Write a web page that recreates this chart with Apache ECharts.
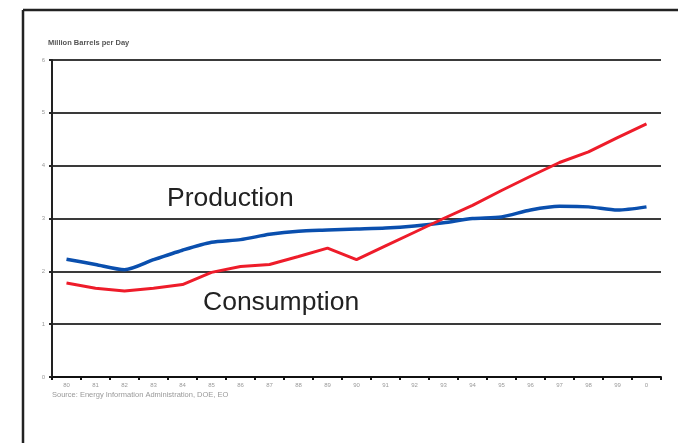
<!DOCTYPE html>
<html>
<head>
<meta charset="utf-8">
<title>Oil Production and Consumption</title>
<script src="https://cdn.jsdelivr.net/npm/echarts@6/dist/echarts.min.js"></script>
<style>
  html, body { margin: 0; padding: 0; background: #fff; }
  #chart { width: 678px; height: 443px; }
</style>
</head>
<body>
<div id="chart"></div>
<script>
// Years along the x axis (1980 through 2000)
const years = ['80','81','82','83','84','85','86','87','88','89','90',
               '91','92','93','94','95','96','97','98','99','0'];

// Million barrels per day
const production = [2.23, 2.13, 2.03, 2.22, 2.40, 2.55, 2.60, 2.70, 2.76, 2.78, 2.80,
                    2.82, 2.86, 2.92, 3.00, 3.03, 3.16, 3.23, 3.22, 3.16, 3.22];
const consumption = [1.78, 1.68, 1.63, 1.68, 1.75, 1.98, 2.09, 2.13, 2.28, 2.44, 2.22,
                     2.48, 2.74, 3.00, 3.25, 3.53, 3.80, 4.06, 4.26, 4.53, 4.79];

const yTicks = [0, 1, 2, 3, 4, 5, 6];

const chart = echarts.init(document.getElementById('chart'), null, { renderer: 'canvas' });

chart.setOption({
  animation: false,
  backgroundColor: '#ffffff',
  grid: { left: 52, right: 17, top: 60, bottom: 66, containLabel: false },
  xAxis: {
    type: 'category',
    data: years,
    boundaryGap: true,
    axisLine: { show: true, lineStyle: { color: '#111', width: 2 } },
    axisTick: { show: true, length: 3, interval: 0, lineStyle: { color: '#111', width: 2 } },
    axisLabel: { interval: 0, fontSize: 6, color: '#9a9a9a', margin: 5, fontFamily: 'Liberation Sans' },
    splitLine: { show: false }
  },
  yAxis: {
    type: 'value',
    min: yTicks[0],
    max: yTicks[yTicks.length - 1],
    interval: 1,
    axisLine: { show: true, lineStyle: { color: '#222', width: 2 } },
    axisTick: { show: true, length: 3, lineStyle: { color: '#222', width: 2 } },
    axisLabel: { fontSize: 6, color: '#9a9a9a', margin: 7, fontFamily: 'Liberation Sans' },
    splitLine: { show: true, lineStyle: { color: '#3a3a3a', width: 2 } }
  },
  series: [
    {
      name: 'Production',
      type: 'line',
      data: production,
      symbol: 'none',
      smooth: 0.25,
      lineStyle: { color: '#0a4fae', width: 3.5 },
      z: 3
    },
    {
      name: 'Consumption',
      type: 'line',
      data: consumption,
      symbol: 'none',
      lineStyle: { color: '#ee1c2a', width: 3 },
      z: 4
    }
  ],
  graphic: [
    // Frame around the figure (top and left edges visible)
    { type: 'line', shape: { x1: 23, y1: 10, x2: 678, y2: 10 }, style: { stroke: '#222', lineWidth: 2.5 } },
    { type: 'line', shape: { x1: 23, y1: 10, x2: 23, y2: 443 }, style: { stroke: '#222', lineWidth: 2.5 } },
    // Unit caption
    { type: 'text', left: 48, top: 39,
      style: { text: 'Million Barrels per Day', fontSize: 7.5, fontWeight: 'bold', fill: '#555', fontFamily: 'Liberation Sans' } },
    // Series captions
    { type: 'text', left: 167, top: 185,
      style: { text: 'Production', fontSize: 26.5, fill: '#222', fontFamily: 'Liberation Sans' } },
    { type: 'text', left: 203, top: 289,
      style: { text: 'Consumption', fontSize: 26.5, fill: '#222', fontFamily: 'Liberation Sans' } },
    // Source note
    { type: 'text', left: 52, top: 391,
      style: { text: 'Source: Energy Information Administration, DOE, EO', fontSize: 7.5, fill: '#999', fontFamily: 'Liberation Sans' } }
  ]
});
</script>
</body>
</html>
